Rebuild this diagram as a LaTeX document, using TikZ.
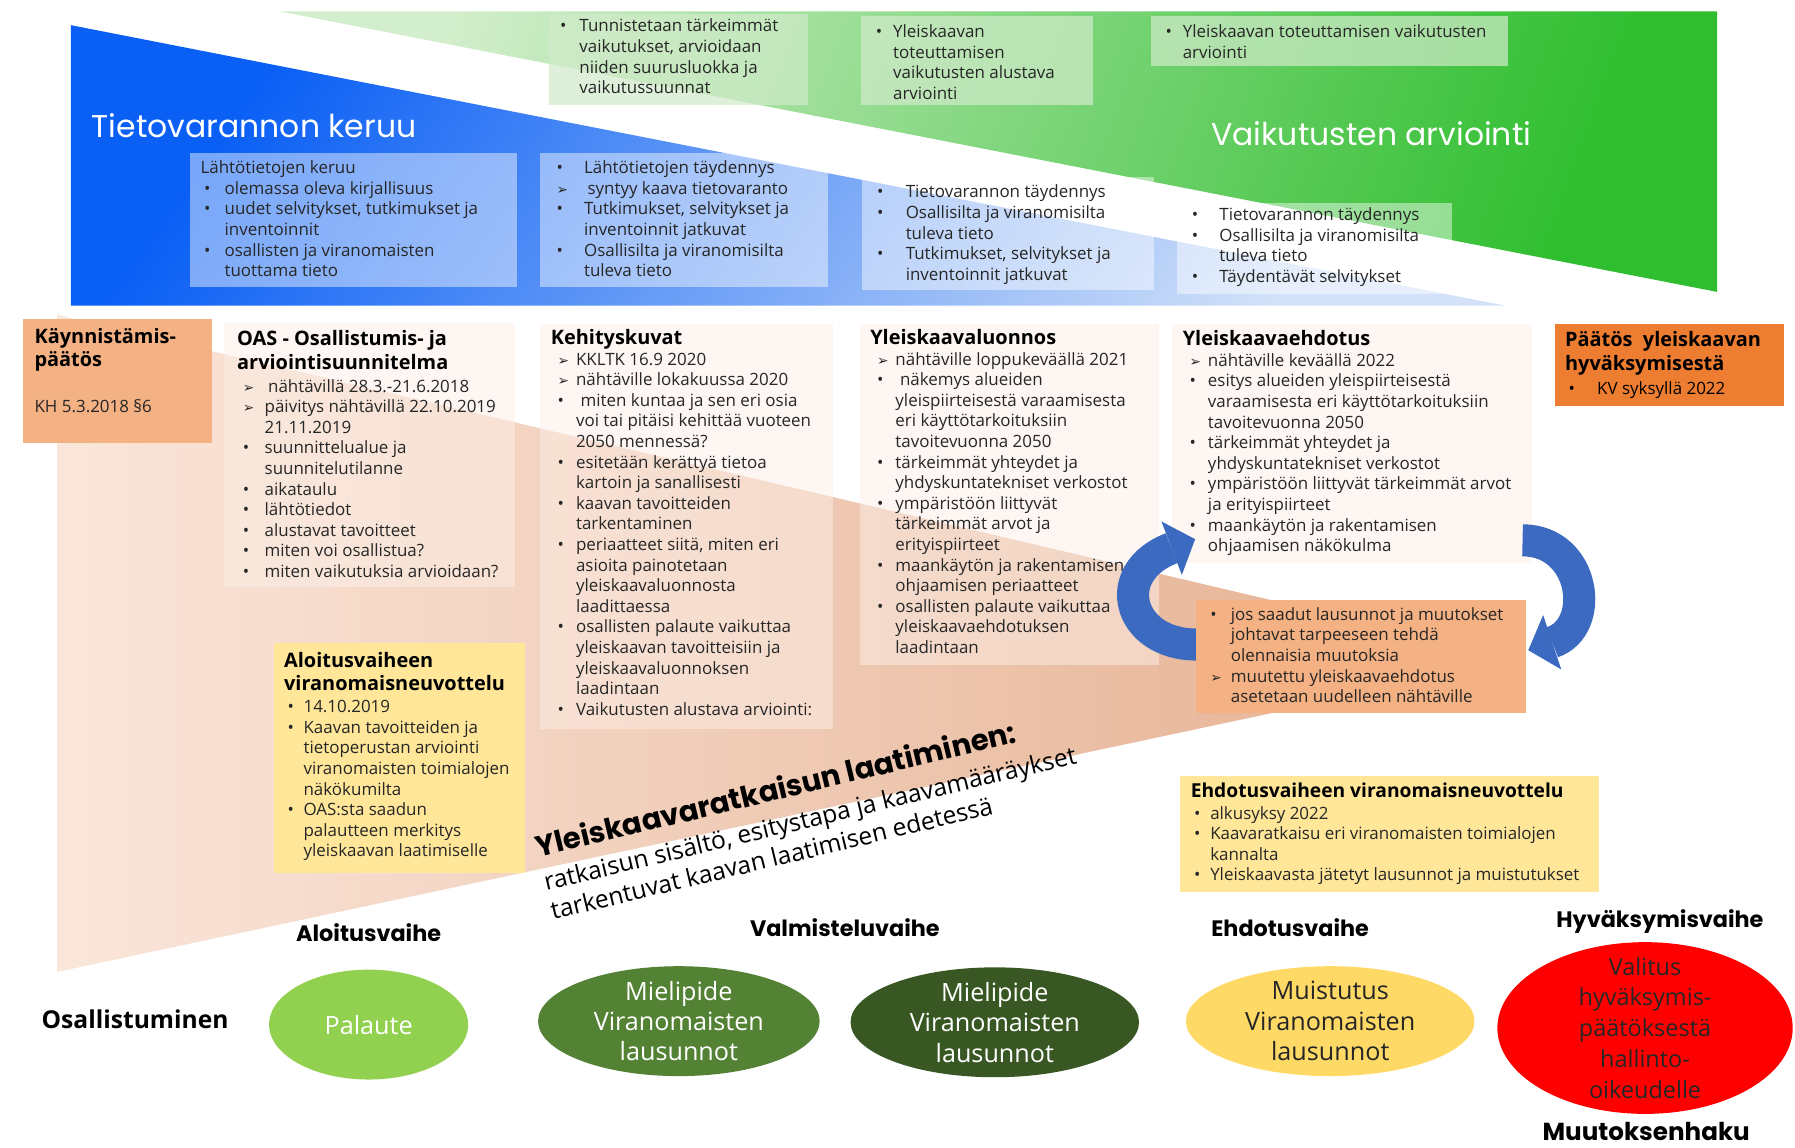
\documentclass[tikz,border=0pt]{standalone}
\usepackage{fontspec}
\setmainfont{Open Sans}
\newfontfamily\headfont{Poppins}
\newfontfamily\dingfont{DejaVu Sans}
\usetikzlibrary{shapes.geometric,arrows.meta}
\definecolor{txt}{HTML}{262626}
\definecolor{grnA}{HTML}{D3EECC}
\definecolor{grnB}{HTML}{2FBE2F}
\definecolor{bluA}{HTML}{0A5FF5}
\definecolor{bluB}{HTML}{D3E2F8}
\definecolor{pchA}{HTML}{FAE6DA}
\definecolor{pchB}{HTML}{E4AE8E}
\definecolor{orgK}{HTML}{F4B183}
\definecolor{orgP}{HTML}{ED7D31}
\definecolor{ylw}{HTML}{FFE699}
\definecolor{arrblue}{HTML}{3B6AC0}
\definecolor{ellA}{HTML}{92D050}
\definecolor{ellB}{HTML}{548235}
\definecolor{ellC}{HTML}{385723}
\definecolor{ellD}{HTML}{FFD966}
\definecolor{ellE}{HTML}{FF0000}
\definecolor{gbox}{HTML}{D2EBCB}
\definecolor{lbox}{HTML}{FCEFE7}
\newlength\mkw \newlength\mko
\newcommand\lbul[1]{\hspace*{\mko}\makebox[\mkw][l]{\textbullet}#1}
\newcommand\larr[1]{\hspace*{\mko}\makebox[\mkw][l]{\dingfont\fontsize{12}{12}\selectfont ➢}#1}
\newcommand\lcont[1]{\hspace*{\mko}\hspace*{\mkw}#1}
\newcommand\lttl[1]{{\bfseries\fontsize{17.4}{18}\selectfont #1}}
\begin{document}
\begin{tikzpicture}[x=1pt,y=-1pt,
  lst/.style={anchor=north west,inner sep=0pt,text=txt,font=\fontsize{14.8}{18}\selectfont},
  head/.style={anchor=west,inner sep=0pt,text=white,font=\headfont\fontsize{27.5}{30}\selectfont},
  stg/.style={inner sep=0pt,text=black,font=\headfont\bfseries\fontsize{19.5}{22}\selectfont},
  elltext/.style={inner sep=0pt,align=center,font=\fontsize{22}{26.5}\selectfont},
  arw/.style={draw=arrblue,line width=28pt,-{Triangle[length=22pt,width=50pt,line width=0pt]}},
  gfill/.style={fill=gbox,fill opacity=0.7},
  bfill/.style={fill=white,fill opacity=0.45},
  lfill/.style={fill=lbox,fill opacity=0.5}]
\fill[white] (0,0) rectangle (1568,1002);
\path[use as bounding box] (0,0) rectangle (1568,1002);

% background bands
\shade[left color=grnA,right color=grnB,shading angle=70] (245,10) -- (1500,10) -- (1500,255) -- cycle;
\shade[left color=bluA,right color=bluB,shading angle=55] (62,22) -- (1315,267) -- (62,267) -- cycle;
\shade[left color=pchA,right color=pchB] (50,275) -- (1331,576) -- (50,849) -- cycle;

\node[head] (tkeruu) at (80,110) {Tietovarannon keruu};
\node[head] (varv) at (1058,117) {Vaikutusten arviointi};

% green boxes
\path[gfill] (480,12) rectangle (706,92);
\path[gfill] (752,14) rectangle (955,92);
\path[gfill] (1005,14) rectangle (1317,58);
\node[lst] (gA) at (489,15) {\setlength\mkw{17pt}\setlength\mko{0pt}\begin{tabular}{@{}l@{}}
\lbul{Tunnistetaan tärkeimmät}\\ \lcont{vaikutukset, arvioidaan}\\ \lcont{niiden suurusluokka ja}\\ \lcont{vaikutussuunnat}\end{tabular}};
\node[lst] (gB) at (765,20) {\setlength\mkw{15pt}\setlength\mko{0pt}\begin{tabular}{@{}l@{}}
\lbul{Yleiskaavan}\\ \lcont{toteuttamisen}\\ \lcont{vaikutusten alustava}\\ \lcont{arviointi}\end{tabular}};
\node[lst] (gC) at (1018,20) {\setlength\mkw{15pt}\setlength\mko{0pt}\begin{tabular}{@{}l@{}}
\lbul{Yleiskaavan toteuttamisen vaikutusten}\\ \lcont{arviointi}\end{tabular}};

% blue boxes
\path[bfill] (166,134) rectangle (452,251);
\path[bfill] (472,134) rectangle (723,251);
\path[bfill] (753,155) rectangle (1008,253);
\path[bfill] (1028,177) rectangle (1268,257);
\node[lst] (bD) at (175,139) {\setlength\mkw{18pt}\setlength\mko{3pt}\begin{tabular}{@{}l@{}}
Lähtötietojen keruu\\ \lbul{olemassa oleva kirjallisuus}\\ \lbul{uudet selvitykset, tutkimukset ja}\\ \lcont{inventoinnit}\\ \lbul{osallisten ja viranomaisten}\\ \lcont{tuottama tieto}\end{tabular}};
\node[lst] (bE) at (486,139) {\setlength\mkw{24pt}\setlength\mko{0pt}\begin{tabular}{@{}l@{}}
\lbul{Lähtötietojen täydennys}\\ \larr{\hspace{3pt}syntyy kaava tietovaranto}\\ \lbul{Tutkimukset, selvitykset ja}\\ \lcont{inventoinnit jatkuvat}\\ \lbul{Osallisilta ja viranomisilta}\\ \lcont{tuleva tieto}\end{tabular}};
\node[lst] (bF) at (766,160) {\setlength\mkw{25pt}\setlength\mko{0pt}\begin{tabular}{@{}l@{}}
\lbul{Tietovarannon täydennys}\\ \lbul{Osallisilta ja viranomisilta}\\ \lcont{tuleva tieto}\\ \lbul{Tutkimukset, selvitykset ja}\\ \lcont{inventoinnit jatkuvat}\end{tabular}};
\node[lst] (bG) at (1041,180) {\setlength\mkw{24pt}\setlength\mko{0pt}\begin{tabular}{@{}l@{}}
\lbul{Tietovarannon täydennys}\\ \lbul{Osallisilta ja viranomisilta}\\ \lcont{tuleva tieto}\\ \lbul{Täydentävät selvitykset}\end{tabular}};

% lower boxes
\fill[orgK] (20,279) rectangle (185,387);
\node[lst,text=black] (kaynn) at (30,286.5) {\begin{tabular}{@{}l@{}}
\lttl{Käynnistämis-}\\[2pt] \lttl{päätös}\\[22pt] \textcolor{txt}{KH 5.3.2018~§6}\end{tabular}};

\path[lfill] (196,282) rectangle (450,513);
\node[lst] (oas) at (207,288.5) {\setlength\mkw{19pt}\setlength\mko{5pt}\begin{tabular}{@{}l@{}}
\textcolor{black}{\lttl{OAS - Osallistumis- ja}}\\[2pt] \textcolor{black}{\lttl{arviointisuunnitelma}}\\[2pt]
\larr{\hspace{3pt}nähtävillä 28.3.-21.6.2018}\\ \larr{päivitys nähtävillä 22.10.2019}\\ \lcont{21.11.2019}\\
\lbul{suunnittelualue ja}\\ \lcont{suunnitelutilanne}\\ \lbul{aikataulu}\\ \lbul{lähtötiedot}\\
\lbul{alustavat tavoitteet}\\ \lbul{miten voi osallistua?}\\ \lbul{miten vaikutuksia arvioidaan?}\end{tabular}};

\path[lfill] (472,283) rectangle (728,637);
\node[lst] (keh) at (481,287.5) {\setlength\mkw{16pt}\setlength\mko{6pt}\begin{tabular}{@{}l@{}}
\textcolor{black}{\lttl{Kehityskuvat}}\\
\larr{KKLTK 16.9 2020}\\ \larr{nähtäville lokakuussa 2020}\\
\lbul{\hspace{4pt}miten kuntaa ja sen eri osia}\\ \lcont{voi tai pitäisi kehittää vuoteen}\\ \lcont{2050 mennessä?}\\
\lbul{esitetään kerättyä tietoa}\\ \lcont{kartoin ja sanallisesti}\\
\lbul{kaavan tavoitteiden}\\ \lcont{tarkentaminen}\\
\lbul{periaatteet siitä, miten eri}\\ \lcont{asioita painotetaan}\\ \lcont{yleiskaavaluonnosta}\\ \lcont{laadittaessa}\\
\lbul{osallisten palaute vaikuttaa}\\ \lcont{yleiskaavan tavoitteisiin ja}\\ \lcont{yleiskaavaluonnoksen}\\ \lcont{laadintaan}\\
\lbul{Vaikutusten alustava arviointi:}\end{tabular}};

\path[lfill] (751,283) rectangle (1012,581);
\node[lst] (ylu) at (760,287.5) {\setlength\mkw{16pt}\setlength\mko{6pt}\begin{tabular}{@{}l@{}}
\textcolor{black}{\lttl{Yleiskaavaluonnos}}\\
\larr{nähtäville loppukeväällä 2021}\\
\lbul{\hspace{4pt}näkemys alueiden}\\ \lcont{yleispiirteisestä varaamisesta}\\ \lcont{eri käyttötarkoituksiin}\\ \lcont{tavoitevuonna 2050}\\
\lbul{tärkeimmät yhteydet ja}\\ \lcont{yhdyskuntatekniset verkostot}\\
\lbul{ympäristöön liittyvät}\\ \lcont{tärkeimmät arvot ja}\\ \lcont{erityispiirteet}\\
\lbul{maankäytön ja rakentamisen}\\ \lcont{ohjaamisen periaatteet}\\
\lbul{osallisten palaute vaikuttaa}\\ \lcont{yleiskaavaehdotuksen}\\ \lcont{laadintaan}\end{tabular}};

\path[lfill] (1024,283) rectangle (1338,492);
\node[lst] (yeh) at (1033,288.5) {\setlength\mkw{16pt}\setlength\mko{6pt}\begin{tabular}{@{}l@{}}
\textcolor{black}{\lttl{Yleiskaavaehdotus}}\\
\larr{nähtäville keväällä 2022}\\
\lbul{esitys alueiden yleispiirteisestä}\\ \lcont{varaamisesta eri käyttötarkoituksiin}\\ \lcont{tavoitevuonna 2050}\\
\lbul{tärkeimmät yhteydet ja}\\ \lcont{yhdyskuntatekniset verkostot}\\
\lbul{ympäristöön liittyvät tärkeimmät arvot}\\ \lcont{ja erityispiirteet}\\
\lbul{maankäytön ja rakentamisen}\\ \lcont{ohjaamisen näkökulma}\end{tabular}};

\fill[orgP] (1358,283) rectangle (1558,355);
\node[lst,text=black] (paatos) at (1367,289.5) {\setlength\mkw{25pt}\setlength\mko{3pt}\begin{tabular}{@{}l@{}}
\lttl{Päätös\ \ yleiskaavan}\\[2pt] \lttl{hyväksymisestä}\\[3pt] \lbul{KV syksyllä 2022}\end{tabular}};

\fill[ylw] (239,562) rectangle (459,763);
\node[lst] (alo) at (248,569.5) {\setlength\mkw{14pt}\setlength\mko{3pt}\begin{tabular}{@{}l@{}}
\textcolor{black}{\lttl{Aloitusvaiheen}}\\[2pt] \textcolor{black}{\lttl{viranomaisneuvottelu}}\\[1pt]
\lbul{14.10.2019}\\ \lbul{Kaavan tavoitteiden ja}\\ \lcont{tietoperustan arviointi}\\ \lcont{viranomaisten toimialojen}\\ \lcont{näkökumilta}\\
\lbul{OAS:sta saadun}\\ \lcont{palautteen merkitys}\\ \lcont{yleiskaavan laatimiselle}\end{tabular}};

\fill[ylw] (1031,678) rectangle (1397,779);
\node[lst] (ehd) at (1040,683.5) {\setlength\mkw{14pt}\setlength\mko{3pt}\begin{tabular}{@{}l@{}}
\textcolor{black}{{\bfseries\fontsize{16.8}{18}\selectfont Ehdotusvaiheen viranomaisneuvottelu}}\\[1pt]
\lbul{alkusyksy 2022}\\ \lbul{Kaavaratkaisu eri viranomaisten toimialojen}\\ \lcont{kannalta}\\
\lbul{Yleiskaavasta jätetyt lausunnot ja muistutukset}\end{tabular}};

% curved arrows
\draw[arw] (1045,563) .. controls (985,563) and (968,500) .. (1044,471);
\fill[orgK] (1045,524) rectangle (1333,623);
\draw[arw] (1330,472) .. controls (1385,472) and (1395,548) .. (1335,568);
\node[lst] (jos) at (1057,529) {\setlength\mkw{18pt}\setlength\mko{0pt}\begin{tabular}{@{}l@{}}
\lbul{jos saadut lausunnot ja muutokset}\\ \lcont{johtavat tarpeeseen tehdä}\\ \lcont{olennaisia muutoksia}\\
\larr{muutettu yleiskaavaehdotus}\\ \lcont{asetetaan uudelleen nähtäville}\end{tabular}};

% rotated text
\node[anchor=base west,inner sep=0pt,rotate=13.5,font=\fontsize{21.5}{26}\selectfont] (laat) at (470,749) {\begin{tabular}[t]{@{}l@{}}
{\headfont\bfseries\fontsize{25.5}{26}\selectfont Yleiskaavaratkaisun laatiminen:}\\[4pt]
ratkaisun sisältö, esitystapa ja kaavamääräykset\\
tarkentuvat kaavan laatimisen edetessä\end{tabular}};

% stage labels
\node[stg] (saloitus) at (322,815) {Aloitusvaihe};
\node[stg] (svalm) at (738,810) {Valmisteluvaihe};
\node[stg] (sehd) at (1127,810) {Ehdotusvaihe};
\node[stg] (shyv) at (1450,805) {Hyväksymisvaihe};
\node[stg,font=\headfont\bfseries\fontsize{21.5}{22}\selectfont] (smuut) at (1438,988) {Muutoksenhaku};
\node[inner sep=0pt,font=\bfseries\fontsize{21.5}{22}\selectfont] (osall) at (118,890) {Osallistuminen};

% ellipses
\fill[ellA] (322,895) ellipse [x radius=87, y radius=48];
\node[elltext,text=white] (palaute) at (322,895) {Palaute};
\fill[ellB] (593,892) ellipse [x radius=123, y radius=48];
\node[elltext,text=white] (miel1) at (593,892) {Mielipide\\Viranomaisten\\lausunnot};
\fill[ellC] (869,893) ellipse [x radius=126, y radius=48];
\node[elltext,text=white] (miel2) at (869,893) {Mielipide\\Viranomaisten\\lausunnot};
\fill[ellD] (1162,892) ellipse [x radius=126, y radius=48];
\node[elltext,text=txt] (muist) at (1162,892) {Muistutus\\Viranomaisten\\lausunnot};
\fill[ellE] (1437,898) ellipse [x radius=129, y radius=75];
\node[elltext,text=txt,font=\fontsize{20.5}{27}\selectfont] (valitus) at (1437,898) {Valitus\\hyväksymis-\\päätöksestä\\hallinto-\\oikeudelle};
\end{tikzpicture}
\end{document}
